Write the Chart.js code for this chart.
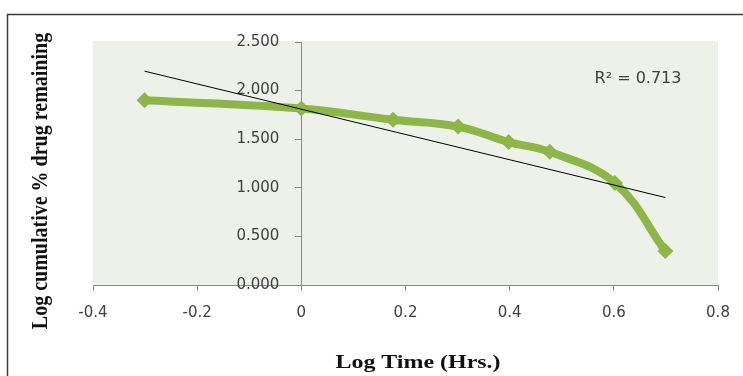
<!DOCTYPE html>
<html><head><meta charset="utf-8">
<script src="https://cdn.jsdelivr.net/npm/chart.js@4.4.1/dist/chart.umd.min.js"></script>
<style>html,body{margin:0;padding:0;background:#fff;overflow:hidden}#wrap{width:743px;height:376px;position:relative}</style>
</head><body><div id="wrap"><canvas id="c" width="743" height="376"></canvas></div>
<script>
// ---- data ----
const logTime = [-0.301, 0, 0.176, 0.301, 0.398, 0.477, 0.602, 0.699];
const logRemaining = [1.90, 1.815, 1.70, 1.63, 1.47, 1.37, 1.05, 0.35];
const trendX = [-0.301, 0.699];
const trendY = [2.20, 0.90];
const xTickLabels = ['-0.4', '-0.2', '0', '0.2', '0.4', '0.6', '0.8'];
const yTickLabels = ['0.000', '0.500', '1.000', '1.500', '2.000', '2.500'];
const xTitle = 'Log Time (Hrs.)';
const yTitle = 'Log cumulative % drug remaining';
const r2Label = 'R² = 0.713';

const GREEN = '#8db548';
const AXIS = '#8a8a8a';
const TICKTXT = '#404040';

const decor = {
  id: 'decor',
  beforeDraw(chart) {
    const ctx = chart.ctx, a = chart.chartArea;
    ctx.save();
    ctx.fillStyle = '#ffffff';
    ctx.fillRect(0, 0, chart.width, chart.height);
    ctx.strokeStyle = '#3a3a3a';
    ctx.lineWidth = 1.5;
    ctx.strokeRect(7.5, 14.5, 900, 500);
    ctx.fillStyle = '#edf1e9';
    ctx.fillRect(a.left, a.top - 1, a.right - a.left, a.bottom - a.top + 1);
    ctx.restore();
    // move y tick labels off the axis line (axis is positioned at x = 0)
    const ys = chart.scales.y;
    const items = ys.getLabelItems(a);
    if (!items._shifted) {
      items.forEach(it => { it.options.translation[0] -= 22; });
      items._shifted = true;
    }
  },
  afterDraw(chart) {
    const ctx = chart.ctx;
    const xs = chart.scales.x, ys = chart.scales.y;
    ctx.save();
    ctx.fillStyle = '#111111';
    // x title
    ctx.font = 'bold 18px "Liberation Serif"';
    ctx.textAlign = 'center';
    ctx.textBaseline = 'alphabetic';
    ctx.save();
    ctx.translate(418, 368);
    ctx.scale(1.33, 1);
    ctx.fillText(xTitle, 0, 0);
    ctx.restore();
    // y title
    ctx.font = 'bold 20px "Liberation Serif"';
    ctx.save();
    ctx.translate(47, 181);
    ctx.scale(1.2, 1);
    ctx.rotate(-Math.PI / 2);
    ctx.fillText(yTitle, 0, 0);
    ctx.restore();
    // R^2 label
    ctx.fillStyle = TICKTXT;
    ctx.font = '16px "DejaVu Sans"';
    ctx.textAlign = 'left';
    ctx.fillText(r2Label, xs.getPixelForValue(0.563), ys.getPixelForValue(2.08));
    ctx.restore();
  }
};

new Chart(document.getElementById('c'), {
  type: 'line',
  data: {
    datasets: [
      {
        label: 'Trend',
        data: trendX.map((x, i) => ({ x, y: trendY[i] })),
        borderColor: '#000000',
        borderWidth: 1,
        pointRadius: 0,
        tension: 0,
        order: 0
      },
      {
        label: 'Log cumulative % drug remaining',
        data: logTime.map((x, i) => ({ x, y: logRemaining[i] })),
        borderColor: GREEN,
        backgroundColor: GREEN,
        borderWidth: 8,
        pointStyle: 'rectRot',
        pointRadius: 8,
        pointBorderWidth: 0,
        pointBackgroundColor: GREEN,
        tension: 0.4,
        borderCapStyle: 'round',
        borderJoinStyle: 'round',
        order: 1
      }
    ]
  },
  options: {
    responsive: false,
    animation: false,
    devicePixelRatio: 1,
    layout: { padding: { left: 93, right: 25, top: 42, bottom: 41 } },
    plugins: { legend: { display: false }, tooltip: { enabled: false } },
    scales: {
      x: {
        type: 'linear',
        position: 'bottom',
        min: -0.4, max: 0.8,
        afterBuildTicks: s => { s.ticks = xTickLabels.map(t => ({ value: Number(t) })); },
        ticks: {
          callback: (v, i) => xTickLabels[i],
          color: TICKTXT,
          font: { family: 'DejaVu Sans', size: 15 },
          padding: 13,
          maxRotation: 0, autoSkip: false
        },
        grid: { drawOnChartArea: false, drawTicks: true, tickLength: 6, color: AXIS },
        border: { display: true, color: AXIS, width: 1 }
      },
      y: {
        type: 'linear',
        position: { x: 0 },
        min: 0, max: 2.5,
        afterBuildTicks: s => { s.ticks = yTickLabels.map(t => ({ value: Number(t) })); },
        ticks: {
          callback: (v, i) => yTickLabels[i],
          color: TICKTXT,
          font: { family: 'DejaVu Sans', size: 15 },
          autoSkip: false
        },
        grid: { drawOnChartArea: false, drawTicks: true, tickLength: 6, color: AXIS },
        border: { display: true, color: AXIS, width: 1 }
      }
    }
  },
  plugins: [decor]
});
</script>
</body></html>
